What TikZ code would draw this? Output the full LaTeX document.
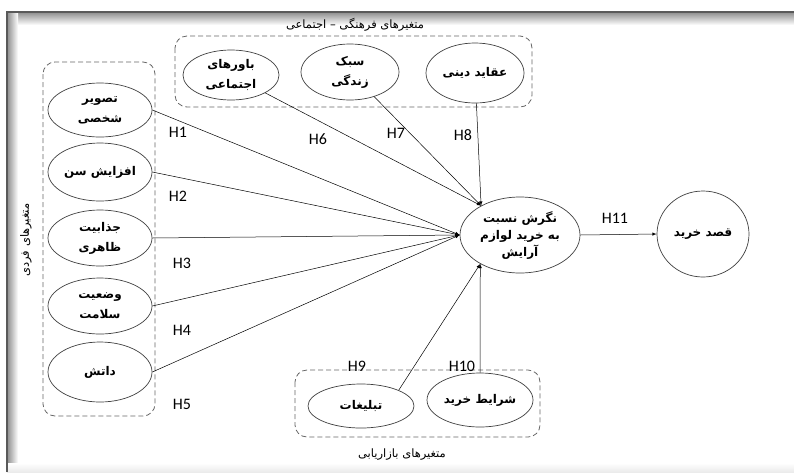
\documentclass[tikz,border=0pt]{standalone}
\usepackage{fontspec}
\setmainfont{Carlito}
\newfontfamily\arabicfont[Script=Arabic, BoldFont={DejaVu Sans Bold}]{DejaVu Sans}
\TeXXeTstate=1
\usetikzlibrary{shapes.geometric}
\newcommand{\fa}[1]{{\arabicfont\beginR #1\endR}}

\tikzset{
  var/.style={ellipse, draw=black!75, line width=0.7pt, inner sep=0pt, align=center,
    font=\bfseries\fontsize{12}{20}\selectfont},
  grp/.style={draw=black!60, dash pattern=on 5pt off 3pt, line width=0.8pt, rounded corners=12pt},
  hyp/.style={font=\fontsize{16}{16}\selectfont},
  grplabel/.style={font=\fontsize{11.5}{12}\selectfont},
  link/.style={->, >=latex, line width=0.5pt}
}

\begin{document}
\begin{tikzpicture}[x=1pt, y=-1pt]
    \useasboundingbox (0,0) rectangle (794,472);
    % frame with shadow
    \fill[white] (0,0) rectangle (794,472);
    \shade[top color=black!45, bottom color=white] (7,12) rectangle (794,25);
    \shade[left color=black!45, right color=white] (7,12) rectangle (18,472);
    \shade[top color=white, bottom color=black!8] (7,463) rectangle (794,472);
    \draw[black!65, line width=1.2pt] (7,472) -- (7,12) -- (794,12);

    % groups
    \draw[grp] (43,62) rectangle (155,416);
    \draw[grp] (175,36) rectangle (532,107);
    \draw[grp] (295,370) rectangle (540,437);
    \node[grplabel, rotate=90] (gind) at (26,240) {\fa{متغیرهای فردی}};
    \node[grplabel] (gcul) at (355,25) {\fa{متغیرهای فرهنگی – اجتماعی}};
    \node[grplabel] (gmkt) at (402,455) {\fa{متغیرهای بازاریابی}};

    % individual variables
    \node[var, minimum width=104pt, minimum height=54pt] (e1) at (100,110) {\fa{تصویر}\\\fa{شخصی}};
    \node[var, minimum width=104pt, minimum height=58pt] (e2) at (100,172) {\fa{افزایش سن}};
    \node[var, minimum width=104pt, minimum height=56pt] (e3) at (100,238) {\fa{جذابیت}\\\fa{ظاهری}};
    \node[var, minimum width=104pt, minimum height=56pt] (e4) at (100,306) {\fa{وضعیت}\\\fa{سلامت}};
    \node[var, minimum width=104pt, minimum height=60pt] (e5) at (100,372) {\fa{داتش}};

    % cultural-social variables
    \node[var, minimum width=96pt, minimum height=50pt] (e6) at (231,75) {\fa{باورهای}\\\fa{اجتماعی}};
    \node[var, minimum width=98pt, minimum height=56pt] (e7) at (350,72) {\fa{سبک}\\\fa{زندگی}};
    \node[var, minimum width=98pt, minimum height=60pt] (e8) at (475,73) {\fa{عقاید دینی}};

    % marketing variables
    \node[var, minimum width=106pt, minimum height=44pt] (e9) at (361,406) {\fa{تبلیغات}};
    \node[var, minimum width=106pt, minimum height=54pt] (e10) at (480,400) {\fa{شرایط خرید}};

    % attitude and intention
    \node[var, minimum width=120pt, minimum height=76pt] (att) at (520,235) {\fa{نگرش نسبت}\\[-3pt]\fa{به خرید لوازم}\\[-3pt]\fa{آرایش}};
    \node[var, minimum width=92pt, minimum height=86pt] (buy) at (703,234) {\fa{قصد خرید}};

    \coordinate (intop) at (att.143);
    \coordinate (inbot) at (att.216);

    \draw[link] (e1.east) -- (att.west);
    \draw[link] (e2.east) -- (att.west);
    \draw[link] (e3.east) -- (att.west);
    \draw[link] (e4.east) -- (att.west);
    \draw[link] (e5.east) -- (att.west);
    \draw[link] (e6) -- (intop);
    \draw[link] (e7) -- (intop);
    \draw[link] (e8) -- (intop);
    \draw[link] (e9.north east) -- (inbot);
    \draw[link] (e10) -- (inbot);
    \draw[link] (att.east) -- (buy.west);

    % hypotheses
    \node[hyp] (h1) at (178,132) {H1};
    \node[hyp] (h2) at (178,196) {H2};
    \node[hyp] (h3) at (182,263) {H3};
    \node[hyp] (h4) at (182,330) {H4};
    \node[hyp] (h5) at (182,404) {H5};
    \node[hyp] (h6) at (318,139) {H6};
    \node[hyp] (h7) at (396,133) {H7};
    \node[hyp] (h8) at (463,135) {H8};
    \node[hyp] (h9) at (357,366) {H9};
    \node[hyp] (h10) at (462,366) {H10};
    \node[hyp] (h11) at (615,218) {H11};
\end{tikzpicture}
\end{document}
